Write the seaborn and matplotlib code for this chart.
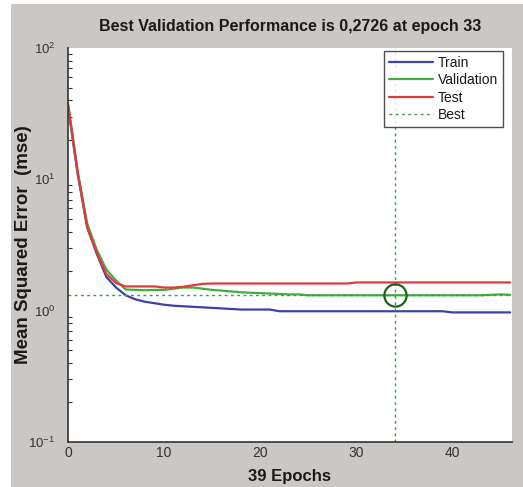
import numpy as np
import pandas as pd
import matplotlib
matplotlib.use("Agg")
import matplotlib.pyplot as plt
import seaborn as sns
from matplotlib.lines import Line2D
from matplotlib.patches import Rectangle
from matplotlib.ticker import LogLocator, NullFormatter

# values
epochs = list(range(47))
train = [36, 11, 4.3, 2.7, 1.8, 1.5, 1.31, 1.22, 1.17, 1.14,
         1.11, 1.09, 1.08, 1.07, 1.06, 1.05, 1.04, 1.03, 1.02, 1.02,
         1.02, 1.02, 0.99, 0.99, 0.99, 0.99, 0.99, 0.99, 0.99, 0.99,
         0.99, 0.99, 0.99, 0.99, 0.99, 0.99, 0.99, 0.99, 0.99, 0.99,
         0.97, 0.97, 0.97, 0.97, 0.97, 0.97, 0.97]
validation = [37, 11.5, 4.6, 2.9, 2.05, 1.7, 1.45, 1.44, 1.43, 1.44,
              1.44, 1.47, 1.5, 1.5, 1.47, 1.44, 1.42, 1.40, 1.38, 1.37,
              1.36, 1.35, 1.34, 1.33, 1.33, 1.31, 1.31, 1.31, 1.31, 1.31,
              1.31, 1.31, 1.31, 1.31, 1.31, 1.31, 1.31, 1.31, 1.31, 1.31,
              1.31, 1.31, 1.31, 1.31, 1.32, 1.33, 1.32]
test = [38, 11.5, 4.3, 2.75, 1.9, 1.62, 1.53, 1.53, 1.53, 1.53,
        1.5, 1.5, 1.52, 1.56, 1.6, 1.61, 1.61, 1.61, 1.61, 1.61,
        1.61, 1.61, 1.61, 1.61, 1.61, 1.61, 1.61, 1.61, 1.61, 1.61,
        1.64, 1.64, 1.64, 1.64, 1.64, 1.64, 1.64, 1.64, 1.64, 1.64,
        1.64, 1.64, 1.64, 1.64, 1.64, 1.64, 1.64]
best_epoch = 34
best_value = 1.31

series_names = ["Train", "Validation", "Test"]
colors = {"Train": "#3a44a8", "Validation": "#3fae3f", "Test": "#e23a3a"}
best_color = "#3f9a3f"

df = pd.DataFrame({
    "epoch": epochs * 3,
    "mse": train + validation + test,
    "set": ["Train"] * 47 + ["Validation"] * 47 + ["Test"] * 47,
})

sns.set_style("white")
plt.rcParams["font.family"] = ["Liberation Sans", "DejaVu Sans"]

fig = plt.figure(figsize=(5.23, 4.87), dpi=100, facecolor="white")
# grey MATLAB-like figure background, with a thin white border top/left
fig.patches.append(Rectangle((11 / 523, 0), 1, 1 - 4 / 487, transform=fig.transFigure,
                             facecolor="#cbc7c4", edgecolor="none", zorder=-10))
ax = fig.add_axes([68 / 523, 1 - 442 / 487, 444 / 523, 394 / 487])
ax.set_facecolor("white")

sns.lineplot(data=df, x="epoch", y="mse", hue="set", hue_order=series_names,
             palette=colors, linewidth=1.6, legend=False, ax=ax)

ax.axvline(best_epoch, color=best_color, linestyle=(0, (2, 2.5)), linewidth=1)
ax.axhline(best_value, color=best_color, linestyle=(0, (2, 2.5)), linewidth=1)
ax.plot([best_epoch], [best_value], marker="o", markersize=16, markerfacecolor="none",
        markeredgecolor="#1f5f1f", markeredgewidth=1.6)

ax.set_yscale("log")
ax.set_ylim(0.1, 100)
ax.set_xlim(0, 46.2)
ax.set_xticks([0, 10, 20, 30, 40])
ax.yaxis.set_minor_locator(LogLocator(base=10, subs=np.arange(2, 10), numticks=20))
ax.yaxis.set_minor_formatter(NullFormatter())

for s in ["top", "right"]:
    ax.spines[s].set_visible(False)
for s in ["left", "bottom"]:
    ax.spines[s].set_color("#333333")
    ax.spines[s].set_linewidth(1.2)

ax.tick_params(axis="both", which="major", direction="in", length=5, width=1,
               colors="#333333", labelsize=10, labelcolor="#333333")
ax.tick_params(axis="y", which="major", labelsize=9.5, pad=9)
ax.tick_params(axis="y", which="minor", direction="in", length=3, width=0.8,
               colors="#333333", left=True)
ax.tick_params(axis="x", pad=3)

ax.set_title("Best Validation Performance is 0,2726 at epoch 33",
             fontsize=11.5, fontweight="bold", color="#1a1a1a", pad=12)
ax.set_xlabel("39 Epochs", fontsize=12, fontweight="bold", color="#1a1a1a", labelpad=6)
ax.set_ylabel("Mean Squared Error  (mse)", fontsize=13.5, fontweight="bold",
              color="#1a1a1a")
ax.yaxis.set_label_coords(-0.08, 0.5)

handles = [Line2D([], [], color=colors[n], linewidth=1.6) for n in series_names]
handles.append(Line2D([], [], color=best_color, linestyle=(0, (2, 2.5)), linewidth=1))
leg = ax.legend(handles, series_names + ["Best"], loc="upper right",
                bbox_to_anchor=(0.985, 1.0), fontsize=10, frameon=True, fancybox=False,
                handlelength=3.2, handletextpad=0.3, borderpad=0.35, labelspacing=0.25,
                borderaxespad=0.2)
leg.get_frame().set_edgecolor("#222222")
leg.get_frame().set_linewidth(1.0)
for t in leg.get_texts():
    t.set_color("#1a1a1a")

fig.savefig("out.png", dpi=100, facecolor=fig.get_facecolor())
